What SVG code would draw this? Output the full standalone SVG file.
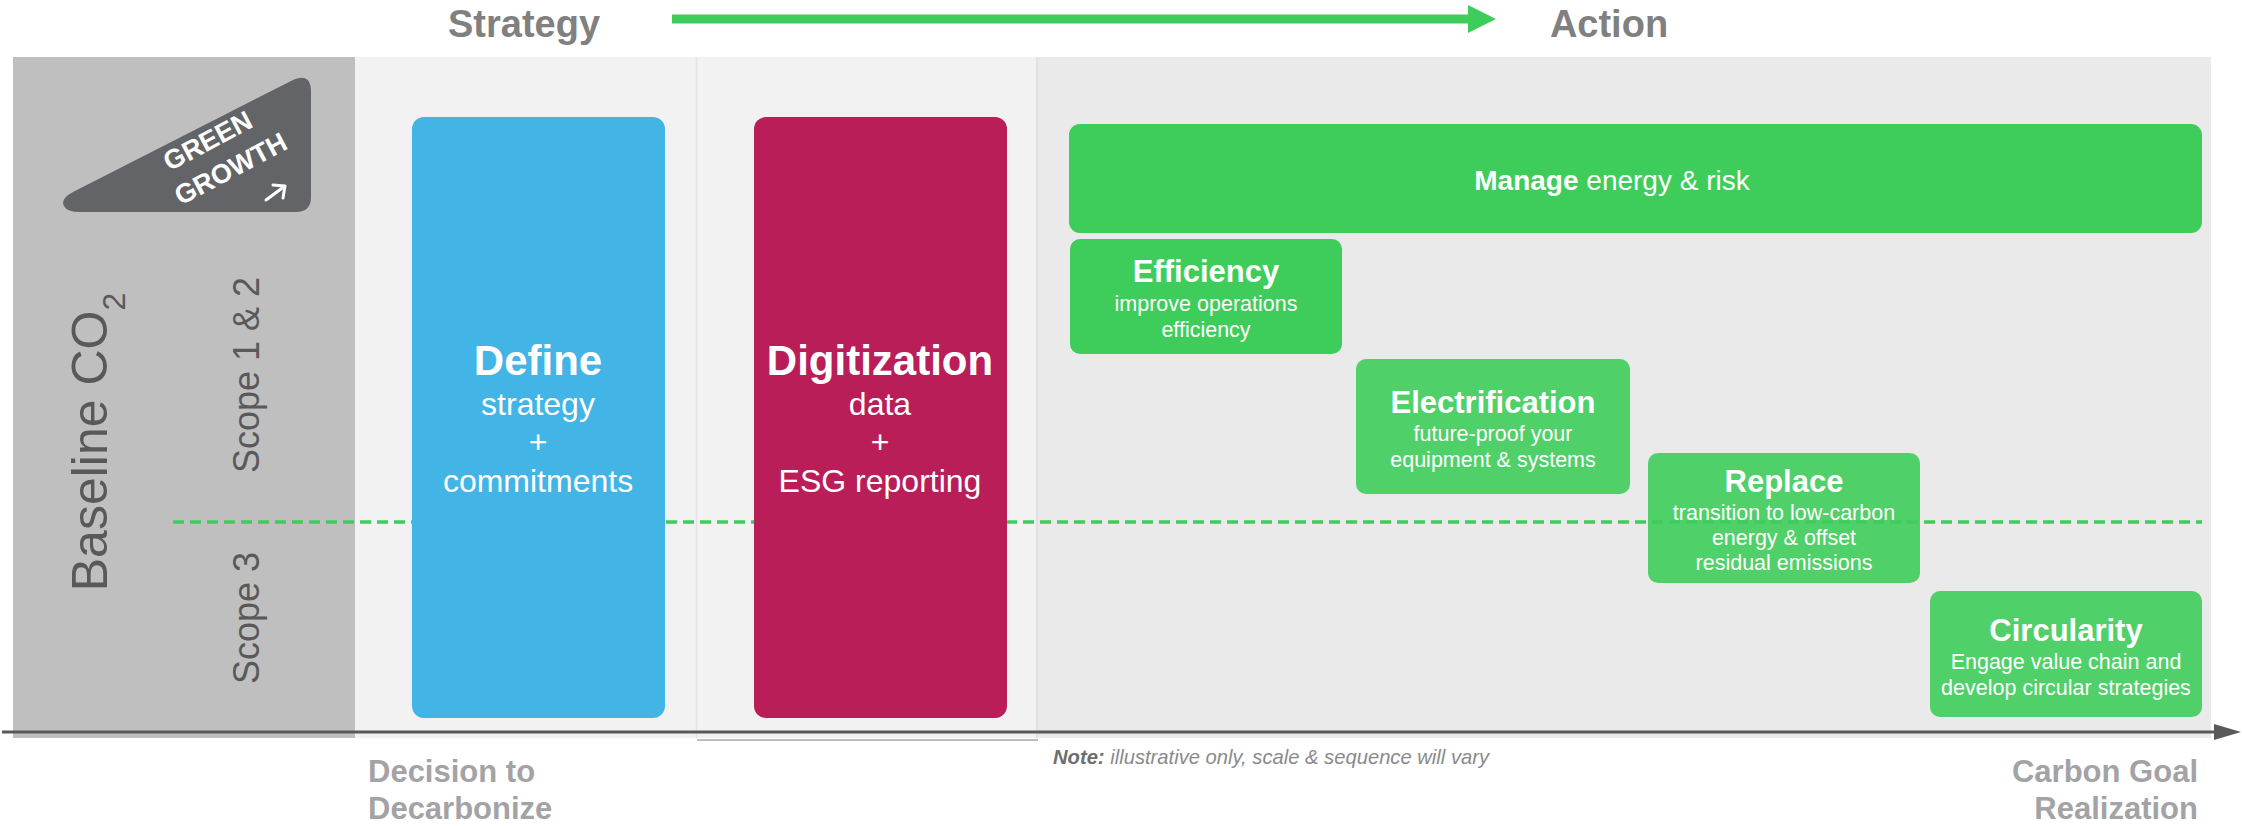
<svg xmlns="http://www.w3.org/2000/svg" width="2242" height="826" viewBox="0 0 2242 826">
<style>
text{font-family:"Liberation Sans",Arial,sans-serif}
.hdr{font-size:38px;font-weight:bold;fill:#808080}
.bot{font-size:31px;font-weight:bold;fill:#a3a3a5}
.vert{fill:#595959}
.big{font-size:42px;font-weight:bold;fill:#fff}
.bigsub{font-size:32px;fill:#fff}
.ttl{font-size:31px;font-weight:bold;fill:#fff}
.sub{font-size:21.5px;fill:#fff}
.g1{fill:#3ecd5a}
.g2{fill:#3ecd5a;fill-opacity:0.9}
</style>
<rect width="2242" height="826" fill="#fff"/>
<g id="panels">
<rect x="13" y="57" width="342" height="681" fill="#bfbfbf"/>
<rect x="355" y="57" width="341" height="681" fill="#f2f2f2"/>
<rect x="696" y="57" width="342" height="681" fill="#f2f2f2"/>
<line x1="696.5" y1="57" x2="696.5" y2="738" stroke="#e4e4e4" stroke-width="1.5"/>
<line x1="1037" y1="57" x2="1037" y2="738" stroke="#e2e2e2" stroke-width="2"/>
<line x1="697" y1="740" x2="1038" y2="740" stroke="#bdbdbd" stroke-width="2"/>
<rect x="1038" y="57" width="1173" height="681" fill="#eaeaea"/>
</g>
<g id="headers">
<text class="hdr" x="524" y="37" text-anchor="middle">Strategy</text>
<text class="hdr" x="1609" y="37" text-anchor="middle">Action</text>
</g>
<g id="green-growth">
<path d="M 80 212 L 296 212 Q 311 212 311 197 L 311 92 Q 311 71 291 81 L 73 192 Q 60 199 64 206 Q 67 212 80 212 Z" fill="#636468"/>
<text x="0" y="0" transform="translate(212 149) rotate(-28)" font-size="27" font-weight="bold" fill="#fff" text-anchor="middle">GREEN</text>
<text x="0" y="0" transform="translate(235 177) rotate(-28)" font-size="27" font-weight="bold" fill="#fff" text-anchor="middle">GROWTH</text>
<path d="M 266 200 L 285 186 M 273 185 L 285 186 L 283 198" fill="none" stroke="#fff" stroke-width="3" stroke-linecap="round" stroke-linejoin="round"/>
</g>
<g id="baseline-label">
<text class="vert" x="0" y="0" transform="translate(107 442) rotate(-90)" font-size="50" text-anchor="middle">Baseline CO<tspan font-size="32" baseline-shift="sub">2</tspan></text>
<text class="vert" x="0" y="0" transform="translate(259 375) rotate(-90)" font-size="36" text-anchor="middle">Scope 1 &amp; 2</text>
<text class="vert" x="0" y="0" transform="translate(259 618) rotate(-90)" font-size="36" text-anchor="middle">Scope 3</text>
</g>
<g id="connectors">
<line x1="173" y1="522" x2="2202" y2="522" stroke="#3ecd5a" stroke-width="3.5" stroke-dasharray="11 6"/>
<line x1="672" y1="19" x2="1470" y2="19" stroke="#3ecd5a" stroke-width="9"/>
<polygon points="1468,5 1496,19 1468,33" fill="#3ecd5a"/>
<line x1="2" y1="732" x2="2216" y2="732" stroke="#595959" stroke-width="3"/>
<polygon points="2214,724 2241,732 2214,740" fill="#595959"/>
</g>
<g id="define">
<rect x="412" y="117" width="253" height="601" rx="12" fill="#43b4e6"/>
<text class="big" x="538" y="375" text-anchor="middle">Define</text>
<text class="bigsub" x="538" y="415" text-anchor="middle">strategy</text>
<text class="bigsub" x="538" y="453" text-anchor="middle">+</text>
<text class="bigsub" x="538" y="492" text-anchor="middle">commitments</text>
</g>
<g id="digitization">
<rect x="754" y="117" width="253" height="601" rx="12" fill="#b91e58"/>
<text class="big" x="880" y="375" text-anchor="middle">Digitization</text>
<text class="bigsub" x="880" y="415" text-anchor="middle">data</text>
<text class="bigsub" x="880" y="453" text-anchor="middle">+</text>
<text class="bigsub" x="880" y="492" text-anchor="middle">ESG reporting</text>
</g>
<g id="manage">
<rect class="g1" x="1069" y="124" width="1133" height="109" rx="11"/>
<text x="1612" y="190" font-size="28" fill="#fff" text-anchor="middle"><tspan font-weight="bold">Manage</tspan> energy &amp; risk</text>
</g>
<g id="efficiency">
<rect class="g1" x="1070" y="239" width="272" height="115" rx="10"/>
<text class="ttl" x="1206" y="282" text-anchor="middle">Efficiency</text>
<text class="sub" x="1206" y="311" text-anchor="middle">improve operations</text>
<text class="sub" x="1206" y="337" text-anchor="middle">efficiency</text>
</g>
<g id="electrification">
<rect class="g2" x="1356" y="359" width="274" height="135" rx="10"/>
<text class="ttl" x="1493" y="413" text-anchor="middle">Electrification</text>
<text class="sub" x="1493" y="441" text-anchor="middle">future-proof your</text>
<text class="sub" x="1493" y="467" text-anchor="middle">equipment &amp; systems</text>
</g>
<g id="replace">
<rect class="g2" x="1648" y="453" width="272" height="130" rx="10"/>
<text class="ttl" x="1784" y="492" text-anchor="middle">Replace</text>
<text class="sub" x="1784" y="520" text-anchor="middle">transition to low-carbon</text>
<text class="sub" x="1784" y="545" text-anchor="middle">energy &amp; offset</text>
<text class="sub" x="1784" y="570" text-anchor="middle">residual emissions</text>
</g>
<g id="circularity">
<rect class="g2" x="1930" y="591" width="272" height="126" rx="10"/>
<text class="ttl" x="2066" y="641" text-anchor="middle">Circularity</text>
<text class="sub" x="2066" y="669" text-anchor="middle">Engage value chain and</text>
<text class="sub" x="2066" y="695" text-anchor="middle">develop circular strategies</text>
</g>
<g id="footer">
<text class="bot" x="368" y="782">Decision to</text>
<text class="bot" x="368" y="819">Decarbonize</text>
<text class="bot" x="2198" y="782" text-anchor="end">Carbon Goal</text>
<text class="bot" x="2198" y="819" text-anchor="end">Realization</text>
<text x="1053" y="764" font-size="20.2" font-style="italic" fill="#8a8a8a"><tspan font-weight="bold" fill="#6e6e6e">Note:</tspan> illustrative only, scale &amp; sequence will vary</text>
</g>
</svg>
